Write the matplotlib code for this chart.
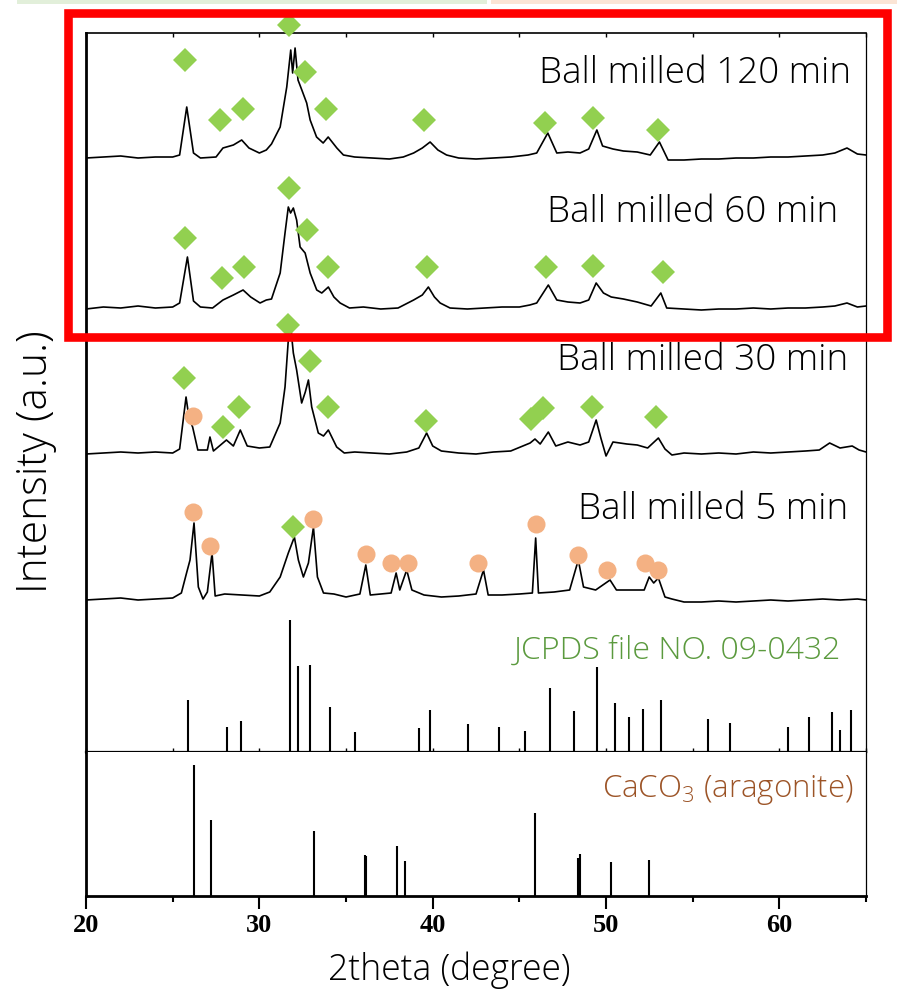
import numpy as np
import matplotlib
matplotlib.use("Agg")
import matplotlib.pyplot as plt
from matplotlib.patches import Rectangle
from matplotlib.ticker import MultipleLocator

plt.rcParams["mathtext.default"] = "regular"

# ---- data ----
# measured patterns: 2theta and intensity above each pattern's own baseline (a.u.)
tth_120 = [20, 21, 22, 23, 24, 25, 25.4, 25.81, 26.2, 26.6, 27.5, 27.9, 28.5, 28.98, 29.4, 30.0,
           30.4, 30.7, 31.2, 31.58, 31.81, 31.92, 32.06, 32.23, 32.45, 32.73, 32.93, 33.3, 33.68,
           33.97, 34.47, 34.85, 35.5, 36.5, 37.5, 38.3, 38.9, 39.4, 39.85, 40.3, 40.8, 41.5, 42.5,
           43.5, 44.5, 45.5, 46.0, 46.64, 47.16, 47.8, 48.5, 49.0, 49.47, 49.8, 50.4, 51.0, 51.8,
           52.55, 53.08, 53.58, 54.5, 55.5, 56.5, 57.5, 58.5, 59.5, 60.5, 61.5, 62.5, 63.2, 63.9,
           64.5, 65]
int_120 = [0, 1, 2, 0, 1, 1, 3, 51, 5, 0, 1, 10, 13, 18, 10, 5,
           8, 14, 31, 71, 108, 85, 110, 78, 68, 55, 38, 21, 15,
           21, 10, 3, 1, 0, -1, 1, 5, 10, 16, 8, 3, 0, -1,
           0, 1, 3, 5, 25, 5, 6, 5, 9, 28, 12, 9, 7, 6,
           3, 16, -2, -2, -1, -1, 0, 0, 1, 1, 2, 3, 5, 10,
           4, 3]

tth_60 = [20, 21, 22, 23, 24, 25, 25.4, 25.85, 26.2, 26.6, 27.3, 27.9, 28.5, 29.06, 29.5, 30.04,
          30.4, 30.7, 31.2, 31.48, 31.67, 31.8, 31.96, 32.15, 32.35, 32.64, 32.93, 33.31, 33.6,
          33.98, 34.3, 34.66, 35.2, 36, 37, 38, 38.9, 39.4, 39.75, 40.1, 40.43, 41, 42, 43, 44,
          45, 45.6, 46.0, 46.67, 47.16, 47.8, 48.5, 49.0, 49.43, 49.85, 50.3, 51.0, 51.8, 52.6,
          53.16, 53.5, 54.5, 55.5, 56.5, 57.5, 58.5, 59.5, 60.5, 61.5, 62.5, 63.2, 63.9, 64.5, 65]
int_60 = [0, 2, 1, 3, 1, 2, 6, 52, 8, 2, 1, 9, 14, 19, 12, 6,
          9, 10, 36, 76, 102, 96, 101, 89, 62, 56, 36, 19, 16,
          22, 12, 6, 1, 2, 0, 1, 9, 14, 22, 12, 6, 1, 0, 1, 2,
          2, 4, 6, 24, 9, 7, 6, 9, 26, 16, 12, 10, 7, 3,
          16, 1, 0, -1, 0, 0, 1, 0, 1, 1, 2, 3, 6, 2, 3]

tth_30 = [20, 21, 22, 23, 24, 25, 25.4, 25.77, 25.95, 26.15, 26.45, 27.0, 27.15, 27.35, 28.1,
          28.5, 28.9, 29.3, 30.0, 30.6, 31.2, 31.48, 31.67, 31.77, 31.96, 32.15, 32.44, 32.65,
          32.83, 33.02, 33.4, 33.7, 33.98, 34.46, 34.9, 35.5, 36.5, 37.5, 38.5, 39.2, 39.65, 40.0,
          40.5, 41.5, 42.5, 43.5, 44.5, 45.2, 45.62, 45.9, 46.2, 46.67, 47.1, 47.8, 48.5, 49.0,
          49.43, 49.7, 50.0, 50.4, 51.2, 51.8, 52.4, 53.02, 53.4, 53.8, 54.5, 55.5, 56.5, 57.5,
          58.5, 59.5, 60.5, 61.5, 62.3, 62.9, 63.5, 64.2, 64.6, 65]
int_30 = [0, 1, 2, 1, 2, 1, 5, 57, 35, 27, 4, 4, 17, 3, 14,
          8, 24, 8, 6, 7, 31, 67, 114, 134, 101, 84, 51, 62,
          74, 47, 21, 18, 24, 7, 1, 2, 1, 0, 2, 6, 21, 8,
          3, 1, 0, 2, 3, 8, 11, 15, 10, 22, 8, 12, 9, 12,
          34, 16, -2, 12, 10, 9, 6, 16, 5, -1, 1, 0, 1, 0,
          2, 1, 2, 3, 4, 11, 6, 8, 4, 2]

tth_5 = [20, 21, 22, 23, 24, 25, 25.5, 25.8, 26.0, 26.23, 26.48, 26.75, 27.0, 27.27, 27.45, 28,
         29, 30, 30.6, 31.2, 31.67, 32.02, 32.25, 32.54, 32.83, 33.12, 33.35, 33.7, 34.3, 35.0,
         35.8, 36.14, 36.4, 37.0, 37.6, 37.89, 38.1, 38.5, 38.8, 39.5, 40.5, 41.5, 42.5, 42.93,
         43.2, 44, 45, 45.75, 45.94, 46.1, 47, 47.9, 48.4, 48.7, 49.4, 50.23, 50.6, 51.5, 52.2,
         52.49, 52.75, 53.02, 53.4, 53.8, 54.5, 55.5, 56.5, 57.5, 58.5, 59.5, 60.5, 61.5, 62.5,
         63.5, 64.5, 65]
int_5 = [0, 1, 2, 0, 1, 2, 7, 27, 40, 77, 13, 1, 8, 47, 4, 6,
         5, 4, 8, 23, 47, 63, 40, 23, 37, 73, 23, 7, 6, 3,
         6, 35, 5, 6, 7, 27, 10, 30, 10, 5, 3, 4, 6, 30,
         5, 5, 6, 7, 62, 7, 8, 10, 40, 13, 10, 20, 10, 10, 10,
         23, 17, 22, 3, 1, -2, -2, -1, -2, -1, 0, -1, 0, 1,
         0, 1, 0]

offsets = [594, 443, 298, 152]
labels = ["Ball milled 120 min", "Ball milled 60 min", "Ball milled 30 min", "Ball milled 5 min"]
label_x = [64.14, 63.37, 63.99, 63.95]
label_y = [669, 530, 382, 233]

# phase markers (2theta, height above the pattern baseline)
dia_120_x = [25.71, 27.73, 29.04, 31.73, 32.64, 33.83, 39.5, 46.45, 49.24, 52.99]
dia_120_y = [98, 38, 49, 133, 86, 49, 38, 35, 40, 28]
dia_60_x = [25.71, 27.83, 29.13, 31.73, 32.73, 33.95, 39.65, 46.54, 49.24, 53.27]
dia_60_y = [71, 31, 42, 121, 79, 42, 42, 42, 43, 37]
dia_30_x = [25.67, 27.89, 28.81, 31.63, 32.93, 33.95, 39.62, 45.68, 46.35, 49.21, 52.89]
dia_30_y = [76, 27, 47, 129, 93, 47, 33, 35, 46, 47, 37]
cir_30_x = [26.16]
cir_30_y = [38]
dia_5_x = [31.96]
dia_5_y = [73]
cir_5_x = [26.16, 27.16, 33.08, 36.14, 37.6, 38.56, 42.62, 45.94, 48.37, 50.08, 52.22, 52.99]
cir_5_y = [88, 54, 81, 46, 37, 37, 37, 76, 45, 30, 37, 30]

# reference stick patterns
jcpds_x = [25.87, 28.11, 28.96, 31.77, 32.21, 32.92, 34.08, 35.5, 39.21, 39.85, 42.03, 43.83,
           45.33, 46.75, 48.14, 49.48, 50.52, 51.33, 52.14, 53.18, 55.91, 57.16, 60.5, 61.72,
           63.04, 63.48, 64.12]
jcpds_h = [51.6, 25.3, 31, 132, 85.7, 86.7, 44.7, 20.3, 24.3, 42.3, 27.7, 25.3,
           21.3, 64, 41.3, 85.3, 49.3, 35.3, 43.3, 51.7, 32.7, 29.3, 25.3, 35.3,
           39.7, 21.7, 42]
arag_x = [26.23, 27.23, 33.17, 36.1, 36.18, 37.93, 38.43, 45.89, 48.37, 48.48, 50.29, 52.5]
arag_h = [131, 75.7, 65, 41, 40, 50, 35.3, 83.3, 37.7, 41.7, 34.3, 35.7]

xtick_vals = [20, 30, 40, 50, 60]
xtick_labels = ["20", "30", "40", "50", "60"]

green = "#92D050"
peach = "#F4B183"
label_font = "Open Sans"

fig = plt.figure(figsize=(8.97, 10.02), dpi=100)
ax = fig.add_axes([0.0959, 0.2495, 0.8696, 0.71756])
ax2 = fig.add_axes([0.0959, 0.10579, 0.8696, 0.14371])

patterns = [(tth_120, int_120), (tth_60, int_60), (tth_30, int_30), (tth_5, int_5)]
for (t, i), off in zip(patterns, offsets):
    ax.plot(t, np.array(i) + off, color="black", lw=1.2)

mk = dict(linestyle="none", clip_on=False, zorder=3, markeredgewidth=0)
ax.plot(dia_120_x, np.array(dia_120_y) + offsets[0], "D", color=green, ms=12, **mk)
ax.plot(dia_60_x, np.array(dia_60_y) + offsets[1], "D", color=green, ms=12, **mk)
ax.plot(dia_30_x, np.array(dia_30_y) + offsets[2], "D", color=green, ms=12, **mk)
ax.plot(cir_30_x, np.array(cir_30_y) + offsets[2], "o", color=peach, ms=13, **mk)
ax.plot(cir_5_x, np.array(cir_5_y) + offsets[3], "o", color=peach, ms=13, **mk)
ax.plot(dia_5_x, np.array(dia_5_y) + offsets[3], "D", color=green, ms=12, **mk)

for lab, lx, ly in zip(labels, label_x, label_y):
    ax.text(lx, ly, lab, ha="right", va="baseline", fontsize=26.5, family=label_font,
            fontweight="light")

ax.vlines(jcpds_x, 0, jcpds_h, color="black", lw=1.5)
ax.text(63.56, 93, "JCPDS file NO. 09-0432", ha="right", va="baseline", fontsize=23,
        family=label_font, fontweight="light", color="#5B9A3E")

ax2.vlines(arag_x, 0, arag_h, color="black", lw=1.5)
ax2.text(64.28, 98.7, "CaCO$_3$ (aragonite)", ha="right", va="baseline", fontsize=22.5,
         family=label_font, fontweight="light", color="#9C5427")

for a in (ax, ax2):
    a.set_xlim(20, 65)
    a.xaxis.set_minor_locator(MultipleLocator(5))
    a.set_yticks([])
    a.spines["left"].set_linewidth(2.0)
    a.spines["right"].set_linewidth(0.9)
    a.spines["bottom"].set_linewidth(1.6)

ax.set_xticks(xtick_vals)
ax.set_ylim(0, 719)
ax.spines["top"].set_linewidth(1.2)
ax.tick_params(axis="x", which="both", top=True, bottom=True, direction="in",
               labelbottom=False, length=3, width=1)

ax2.set_ylim(0, 144)
ax2.spines["top"].set_visible(False)
ax2.spines["bottom"].set_linewidth(2.0)
ax2.tick_params(axis="x", which="major", direction="out", length=9, width=1.5, pad=4,
                labelsize=19)
ax2.tick_params(axis="x", which="minor", direction="out", length=4.5, width=1.5)
ax2.set_xticks(xtick_vals)
ax2.set_xticklabels(xtick_labels, fontdict={"family": "Liberation Serif", "weight": "bold",
                                            "size": 19})

fig.text(0.0401, 1 - 462 / 1002, "Intensity (a.u.)", rotation=90, ha="center", va="center",
         fontsize=30.5, family=label_font, fontweight="light")
fig.text(449 / 897, 1 - 970 / 1002, "2theta (degree)", ha="center", va="center",
         fontsize=25.6, family=label_font, fontweight="light")

# red highlight box and faint strips at the top edge
fig.add_artist(Rectangle((67.5 / 897, 1 - 337 / 1002), (886.5 - 67.5) / 897, (337 - 13) / 1002,
                         transform=fig.transFigure, fill=False, edgecolor="#FF0000", lw=6.2,
                         zorder=10))
fig.add_artist(Rectangle((17 / 897, 1 - 4 / 1002), 470 / 897, 4 / 1002,
                         transform=fig.transFigure, color="#E2EFDA", lw=0, zorder=0))
fig.add_artist(Rectangle((491 / 897, 1 - 4 / 1002), 406 / 897, 4 / 1002,
                         transform=fig.transFigure, color="#FBE5D6", lw=0, zorder=0))

fig.savefig("out.png", dpi=100)
